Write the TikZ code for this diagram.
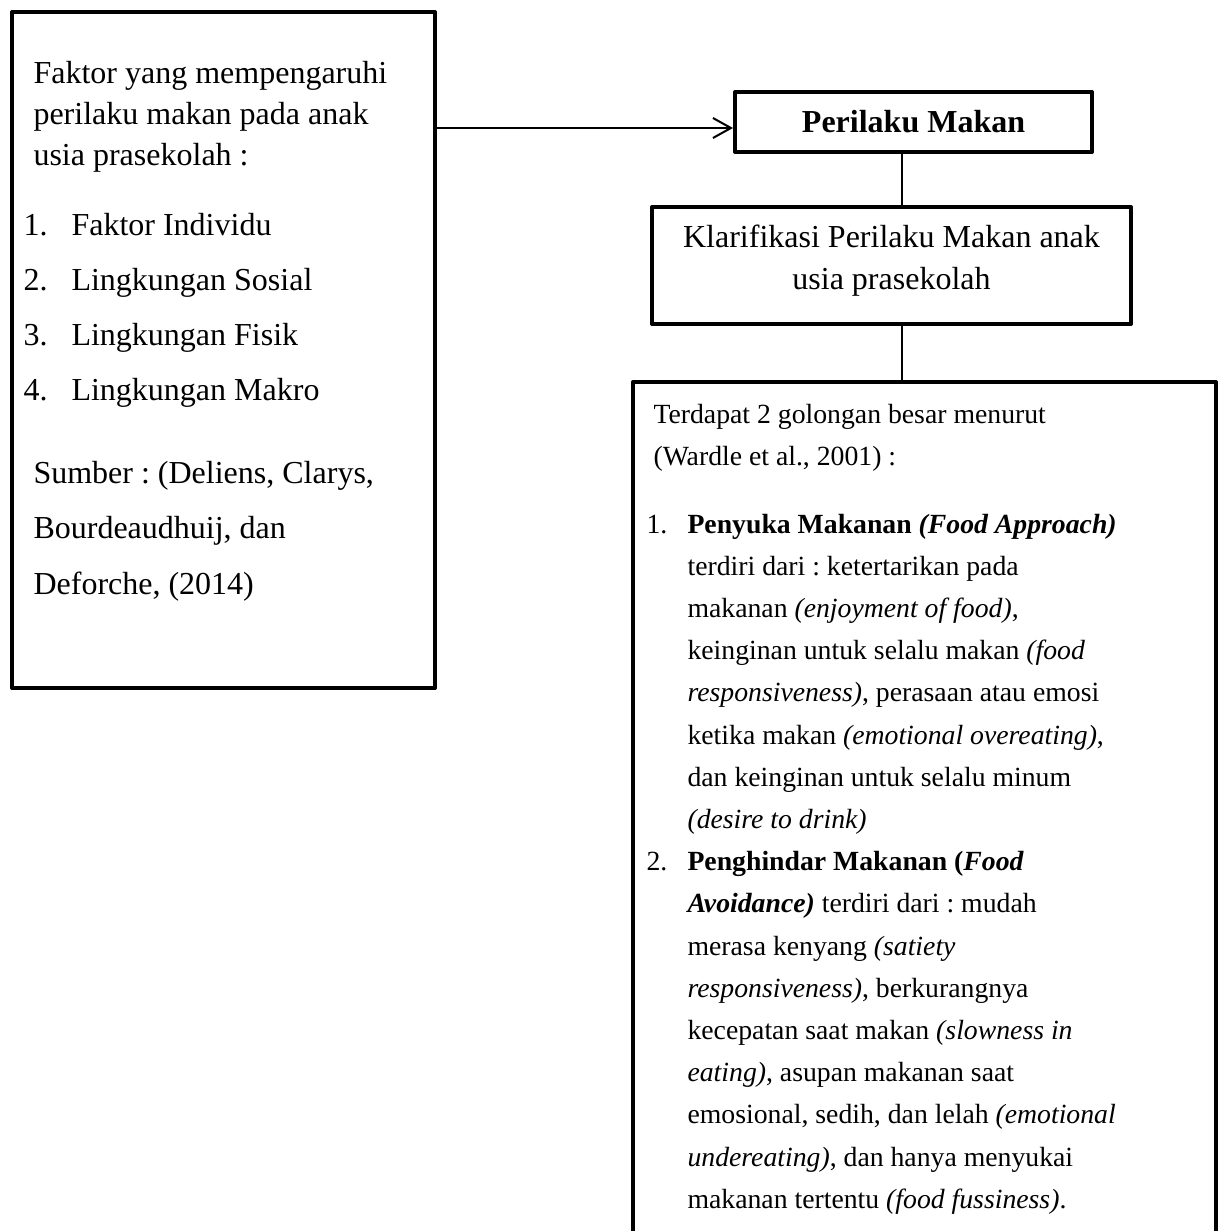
\documentclass[tikz,border=0pt]{standalone}
\usepackage{fontspec}
\setmainfont{Liberation Serif}
\usepackage{tikz}
\usetikzlibrary{arrows.meta}
\frenchspacing

\newcommand\PX{0.375pt}

\tikzset{
  box/.style={draw, line width=1.5pt, line join=round, inner sep=0pt},
  link/.style={line width=0.75pt},
  arr/.style={link, -{Straight Barb[length=6.75pt, width=7.5pt]}},
  txt/.style={inner sep=0pt, anchor=base west, font=\fontsize{12}{14}\selectfont},
  sml/.style={txt, font=\fontsize{10.4}{12}\selectfont},
}

\begin{document}
\begin{tikzpicture}[x=\PX, y=-\PX]
    \useasboundingbox (0,0) rectangle (1218,1231);

    % boxes
    \node[box, minimum width=423*\PX, minimum height=676*\PX] (faktor) at (223.5,350) {};
    \node[box, minimum width=357*\PX, minimum height=60*\PX,
          font=\fontsize{12}{14}\selectfont\bfseries] (perilaku) at (913.5,122) {Perilaku Makan};
    \node[box, minimum width=479*\PX, minimum height=117*\PX] (klarifikasi) at (891.5,265.5) {};
    \node[box, minimum width=583*\PX, minimum height=880*\PX] (golongan) at (924.5,822) {};

    % connectors
    \coordinate (spine) at (901.5,0);
    \draw[arr] ([yshift=-2.25pt]perilaku.west -| faktor.east) -- ([yshift=-2.25pt]perilaku.west);
    \draw[link] (perilaku.south -| spine) -- (klarifikasi.north -| spine);
    \draw[link] (klarifikasi.south -| spine) -- (golongan.north -| spine);

    % left box text
    \foreach \t [count=\k from 0] in {Faktor yang mempengaruhi, perilaku makan pada anak, usia prasekolah :}
      \node[txt] (F\k) at (33,83+41*\k) {\t};
    \foreach \t [count=\i] in {Faktor Individu, Lingkungan Sosial, Lingkungan Fisik, Lingkungan Makro} {
      \node[txt] (N\i) at (23,180+55*\i) {\i.};
      \node[txt] (L\i) at (71,180+55*\i) {\t};
    }
    \foreach \t [count=\k from 0] in {{Sumber : (Deliens, Clarys,}, {Bourdeaudhuij, dan}, {Deforche, (2014)}}
      \node[txt] (S\k) at (33,483+55.5*\k) {\t};

    % middle box text
    \node[txt, anchor=base] (K0) at (891.5,247) {Klarifikasi Perilaku Makan anak};
    \node[txt, anchor=base] (K1) at (891.5,289) {usia prasekolah};

    % bottom box text
    \node[sml] (T0) at (653,423) {Terdapat 2 golongan besar menurut};
    \node[sml] (T1) at (653,465) {(Wardle et al., 2001) :};
    \node[sml] (M1) at (646,533) {1.};
    \node[sml] (M2) at (646,533+8*42.2) {2.};
    \foreach \t [count=\k from 0] in {
        {\textbf{Penyuka Makanan \textit{(Food Approach)}}},
        {terdiri dari : ketertarikan pada},
        {makanan \textit{(enjoyment of food)},},
        {keinginan untuk selalu makan \textit{(food}},
        {\textit{responsiveness)}, perasaan atau emosi},
        {ketika makan \textit{(emotional overeating)},},
        {dan keinginan untuk selalu minum},
        {\textit{(desire to drink)}},
        {\textbf{Penghindar Makanan (\textit{Food}}},
        {\textbf{\textit{Avoidance)}} terdiri dari : mudah},
        {merasa kenyang \textit{(satiety}},
        {\textit{responsiveness)}, berkurangnya},
        {kecepatan saat makan \textit{(slowness in}},
        {\textit{eating)}, asupan makanan saat},
        {emosional, sedih, dan lelah \textit{(emotional}},
        {\textit{undereating)}, dan hanya menyukai},
        {makanan tertentu \textit{(food fussiness)}.}}
      \node[sml] (G\k) at (687,533+42.2*\k) {\t};
  \end{tikzpicture}
\end{document}
